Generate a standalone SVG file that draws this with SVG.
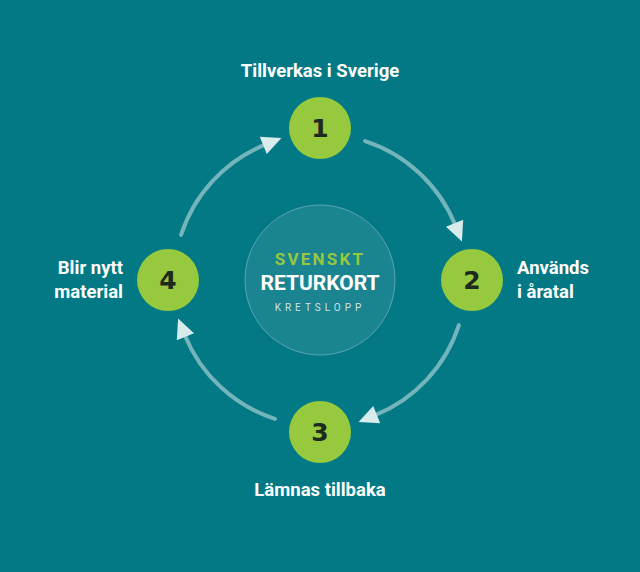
<svg xmlns="http://www.w3.org/2000/svg" width="640" height="572" viewBox="0 0 640 572">
<style>
.lbl{font-family:Roboto,"Liberation Sans",sans-serif;font-weight:700;font-size:18.5px;fill:#ffffff}
.num{font-family:"DejaVu Sans","Liberation Sans",sans-serif;font-weight:700;font-size:25px;fill:#1e2a1e;text-anchor:middle}
.node{fill:#96c93d}
.arc{fill:none;stroke:#ffffff;stroke-opacity:0.45;stroke-width:4;stroke-linecap:round}
</style>
<defs>
<marker id="ah" markerUnits="userSpaceOnUse" markerWidth="24" markerHeight="24" viewBox="-2 -10 22 20" refX="2" refY="0" orient="auto">
<path d="M0,-8.5 L18,0 L0,8.5 z" fill="#d8ebed"/>
</marker>
</defs>
<rect width="640" height="572" fill="#027985"/>
<g id="connectors">
<path class="arc" d="M365.1,141.1 A146,146 0 0 1 455.4,225.3" marker-end="url(#ah)"/>
<path class="arc" d="M458.9,325.1 A146,146 0 0 1 374.7,415.4" marker-end="url(#ah)"/>
<path class="arc" d="M274.9,418.9 A146,146 0 0 1 184.6,334.7" marker-end="url(#ah)"/>
<path class="arc" d="M181.1,234.9 A146,146 0 0 1 265.3,144.6" marker-end="url(#ah)"/>
</g>
<g id="center">
<circle cx="320" cy="280" r="75" fill="#1a8490" stroke="#ffffff" stroke-opacity="0.3" stroke-width="1"/>
<text x="320" y="265" text-anchor="middle" font-family="Roboto,'Liberation Sans',sans-serif" font-weight="700" font-size="17" letter-spacing="2.2" fill="#96c93d">SVENSKT</text>
<text x="320" y="290" text-anchor="middle" font-family="Roboto,'Liberation Sans',sans-serif" font-weight="700" font-size="21" fill="#ffffff">RETURKORT</text>
<text x="320" y="311" text-anchor="middle" font-family="Roboto,'Liberation Sans',sans-serif" font-size="10" letter-spacing="4" fill="#cfe3e6">KRETSLOPP</text>
</g>
<g id="node1">
<circle class="node" cx="320" cy="128" r="31"/>
<text class="num" x="320" y="137">1</text>
<text class="lbl" x="320" y="77" text-anchor="middle">Tillverkas i Sverige</text>
</g>
<g id="node2">
<circle class="node" cx="472" cy="280" r="31"/>
<text class="num" x="472" y="289">2</text>
<text class="lbl" x="517" y="274">Används</text>
<text class="lbl" x="517" y="298">i åratal</text>
</g>
<g id="node3">
<circle class="node" cx="320" cy="432" r="31"/>
<text class="num" x="320" y="441">3</text>
<text class="lbl" x="320" y="496" text-anchor="middle">Lämnas tillbaka</text>
</g>
<g id="node4">
<circle class="node" cx="168" cy="280" r="31"/>
<text class="num" x="168" y="289">4</text>
<text class="lbl" x="123" y="274" text-anchor="end">Blir nytt</text>
<text class="lbl" x="123" y="298" text-anchor="end">material</text>
</g>
</svg>
